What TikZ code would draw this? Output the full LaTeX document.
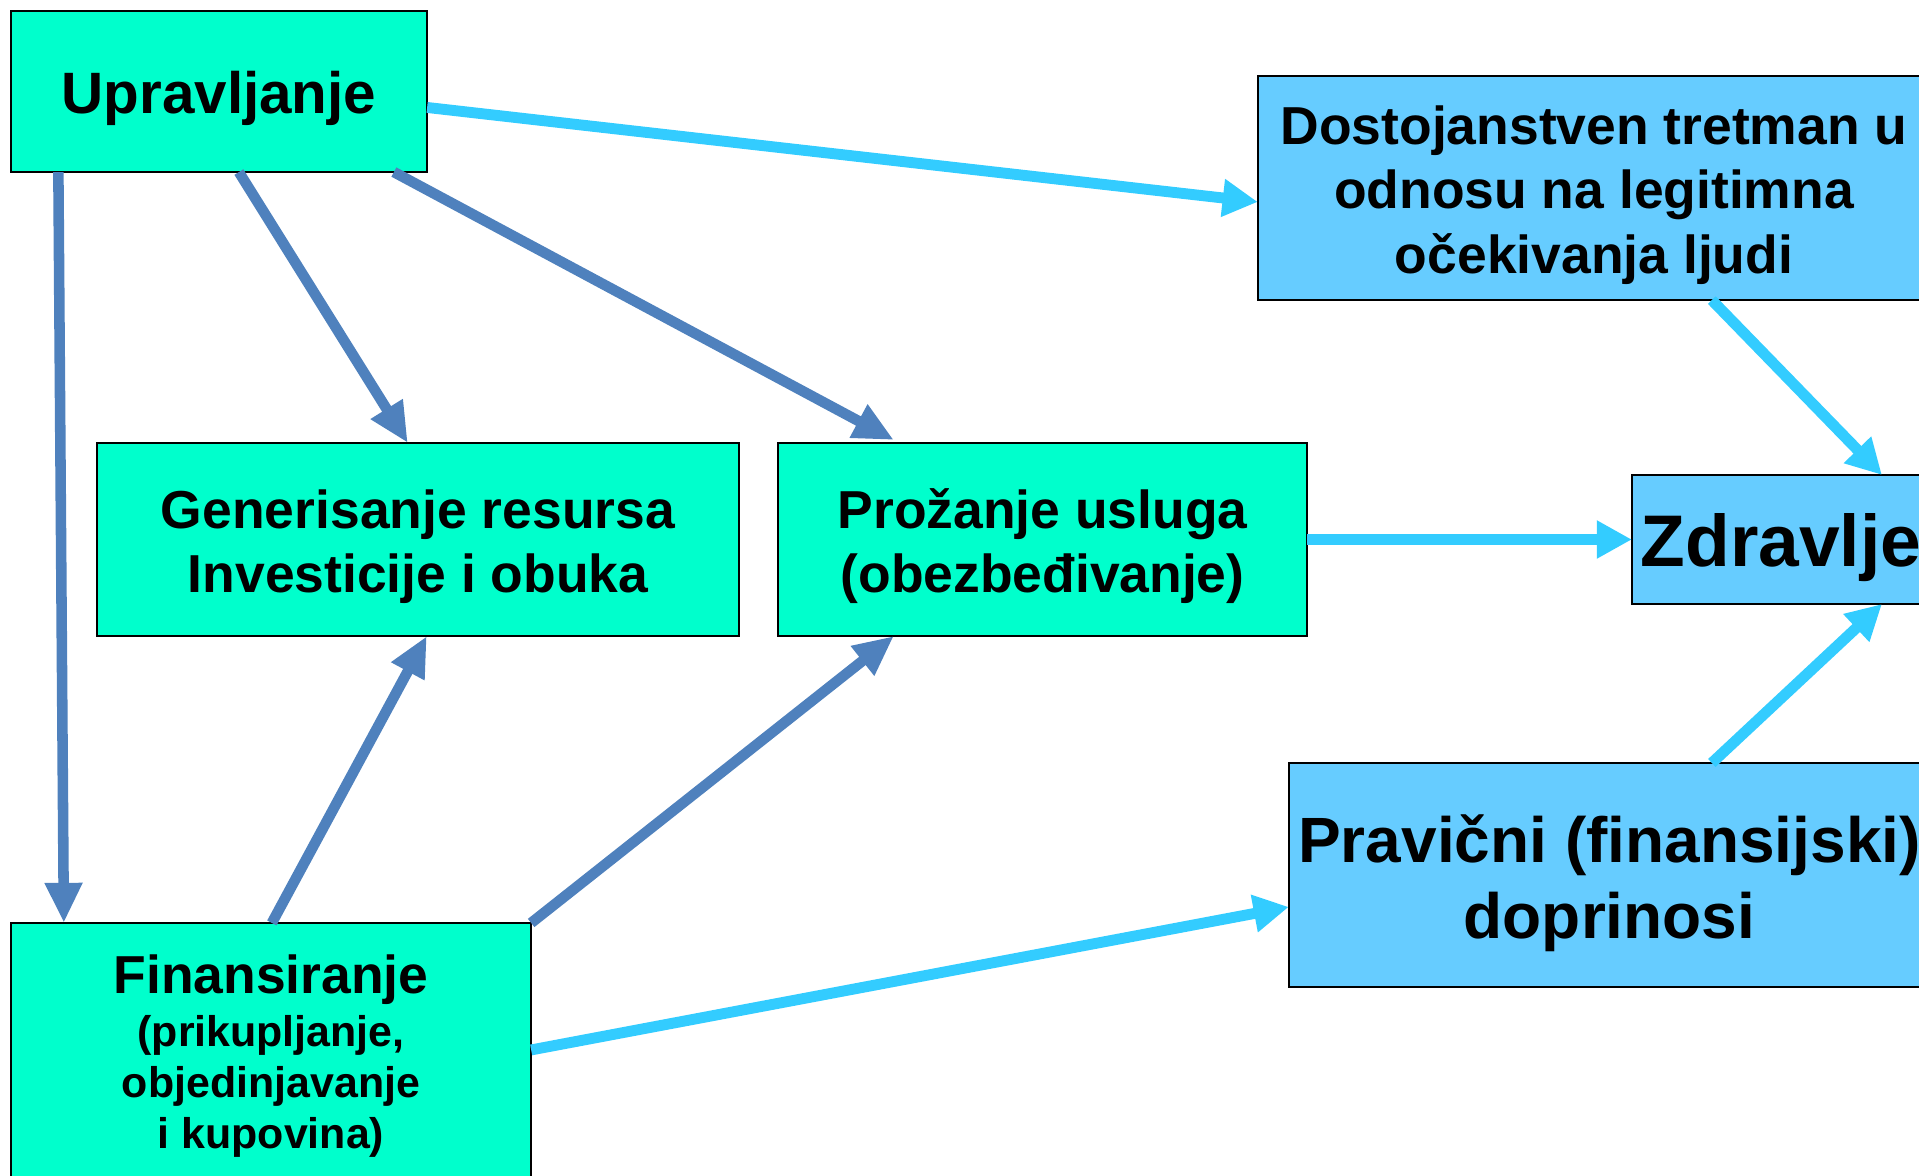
\documentclass[tikz,border=0pt]{standalone}
\usepackage{fontspec}
\setmainfont{Liberation Sans}
\usetikzlibrary{arrows.meta,calc}

\definecolor{tealbox}{HTML}{00FFCC}
\definecolor{skybox}{HTML}{66CCFF}
\definecolor{steelarrow}{HTML}{4F81BD}
\definecolor{skyarrow}{HTML}{33CCFF}

\newcommand{\titlefont}{\fontsize{16.6}{20}\selectfont\bfseries}
\newcommand{\boxfont}{\fontsize{15.2}{18.35}\selectfont\bfseries}
\newcommand{\subfont}{\fontsize{12.2}{14.5}\selectfont\bfseries}
\newcommand{\bigfont}{\fontsize{18.2}{21.6}\selectfont\bfseries}
\newcommand{\hugefont}{\fontsize{20.8}{24}\selectfont\bfseries}

\begin{document}
\begin{tikzpicture}[x=0.01cm,y=-0.01cm,
		box/.style={draw=black,line width=0.6pt,inner sep=0pt,outer sep=0pt,align=center},
		greenbox/.style={box,fill=tealbox},
		bluebox/.style={box,fill=skybox},
		darkarrow/.style={line width=3pt,steelarrow,-{Triangle[length=11.4pt,width=10pt]}},
		lightarrow/.style={line width=3.1pt,skyarrow,-{Triangle[length=10pt,width=10.2pt]}}]
				\useasboundingbox (0,0) rectangle (1919,1175);
				\clip (0,0) rectangle (1919,1175);
				% boxes
				\node[greenbox,minimum width=4.16cm,minimum height=1.61cm,font=\titlefont,text height=12.5pt,text depth=0pt] (upr) at (219,91.5) {Upravljanje};
				\node[greenbox,minimum width=6.42cm,minimum height=1.93cm,font=\boxfont,text height=30.2pt,text depth=0pt] (gen) at (418,539.5) {Generisanje resursa\\Investicije i obuka};
				\node[greenbox,minimum width=5.29cm,minimum height=1.93cm,font=\boxfont,text height=30.2pt,text depth=0pt] (pro) at (1042.5,539.5) {Prožanje usluga\\(obezbeđivanje)};
				\node[greenbox,minimum width=5.20cm,minimum height=2.66cm,font=\subfont] (fin) at (271,1056) {{\boxfont Finansiranje}\\[0.6pt](prikupljanje,\\objedinjavanje\\i kupovina)};
				\node[bluebox,minimum width=6.72cm,minimum height=2.24cm,font=\boxfont,text height=48.4pt,text depth=0pt] (dos) at (1594,188) {Dostojanstven tretman u\\odnosu na legitimna\\očekivanja ljudi};
				\node[bluebox,minimum width=2.98cm,minimum height=1.29cm,font=\hugefont,text height=15.6pt,text depth=0pt] (zdr) at (1781,539.5) {Zdravlje};
				\node[bluebox,minimum width=6.41cm,minimum height=2.24cm,font=\bigfont,text height=35.9pt,text depth=0pt] (pra) at (1609.5,875) {Pravični (finansijski)\\doprinosi};
				% dark arrows
				\draw[darkarrow] ($(upr.south west)+(47.5,0)$) -- ($(fin.north west)+(53,0)$);
				\draw[darkarrow] ($(upr.south west)+(228,0)$) -- ($(gen.north west)+(311,0)$);
				\draw[darkarrow] ($(upr.south west)+(383,0)$) -- ($(pro.north west)+(116,-3)$);
				\draw[darkarrow] ($(fin.north west)+(261,0)$) -- ($(gen.south west)+(330,0)$);
				\draw[darkarrow] (fin.north east) -- ($(pro.south west)+(116,0)$);
				% light arrows
				\draw[lightarrow] ($(upr.north east)+(0,96.5)$) -- ($(dos.north west)+(0,126)$);
				\draw[lightarrow] ($(dos.south west)+(454,0)$) -- ($(zdr.north west)+(250,0)$);
				\draw[lightarrow] (pro.east) -- (zdr.west);
				\draw[lightarrow] ($(pra.north west)+(423,0)$) -- ($(zdr.south west)+(250,0)$);
				\draw[lightarrow] ($(fin.north east)+(0,127)$) -- ($(pra.north west)+(0,144)$);
\end{tikzpicture}
\end{document}
